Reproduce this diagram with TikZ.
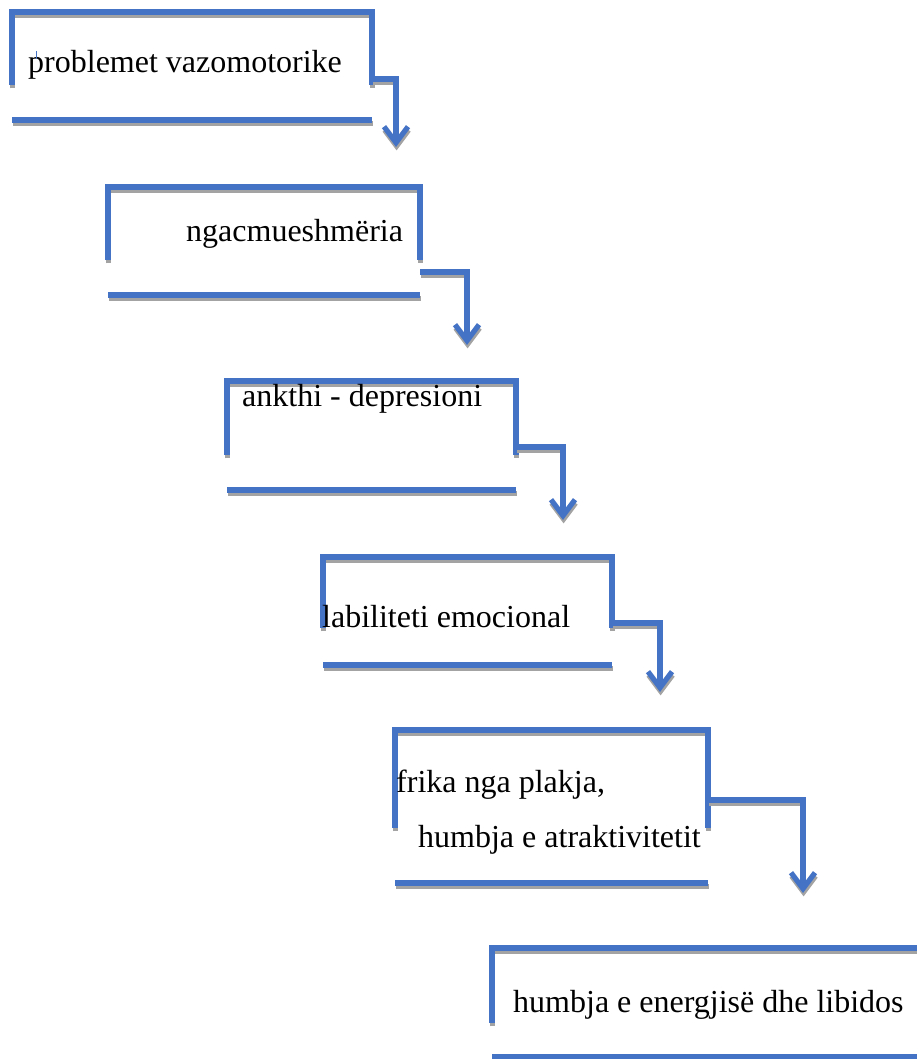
\documentclass[tikz,border=0pt]{standalone}
\usepackage{fontspec}
\setmainfont{Liberation Serif}
\usepackage{tikz}
\usetikzlibrary{arrows.meta}

\definecolor{boxblue}{HTML}{4472C4}
\definecolor{shadowgray}{HTML}{A3A3A3}

\tikzset{
  box/.style={draw=none,inner sep=0pt,outer sep=0pt,anchor=north west},
  bline/.style={draw=boxblue,line width=5.2pt},
  shade/.style={draw=shadowgray,line width=5.2pt,transform canvas={shift={(0.6pt,-3.4pt)}}},
  txt/.style={font=\fontsize{32}{38}\selectfont,inner sep=0pt,anchor=base west},
  tip/.style={-{Straight Barb[length=16pt,width=24pt]}}
}

% blue line with its grey shadow underneath
\newcommand\bluepath[2][]{%
  \draw[shade,#1] #2;
  \draw[bline,#1] #2;}

\begin{document}
\begin{tikzpicture}[x=1pt,y=-1pt]
\useasboundingbox (0,0) rectangle (916,1059);

% boxes
\foreach \x/\y/\w/\h [count=\n] in
        {12/12/360/108,108/187/312/108,227/381/289/109,323/557/289/108,395/730/313/153,492/948/440/109}
  \node[box,minimum width=\w pt,minimum height=\h pt] (b\n) at (\x,\y) {};

\foreach \s [count=\n] in {73,73,74,71,98,75}
  {\bluepath{(b\n.north west) ++(0,\s) -- (b\n.north west) -- (b\n.north east) -- ++(0,\s)
     (b\n.south west) -- (b\n.south east)}}

% arrows down to the next box
\foreach \c/\ax/\ay [count=\n] in
        {67/396/147,85/467/345,66/563/520,66/660/692,70/803/893}
  {\coordinate (a\n) at (\ax,\ay);
   \bluepath[tip]{([yshift=-\c pt]b\n.north east) -| (a\n)}}

\node[txt] (t1) at (28,73) {problemet vazomotorike};
\node[txt] (t2) at (186,241) {ngacmueshmëria};
\node[txt] (t3) at (242,406) {ankthi - depresioni};
\node[txt] (t4) at (322,627) {labiliteti emocional};
\node[txt] (t5) at (396,792) {frika nga plakja,};
\node[txt] (t5b) at (418,847) {humbja e atraktivitetit};
\node[txt] (t6) at (513,1012) {humbja e energjisë dhe libidos};

\draw[boxblue,line width=0.8pt] (36,51) -- (36,59);
\end{tikzpicture}
\end{document}
